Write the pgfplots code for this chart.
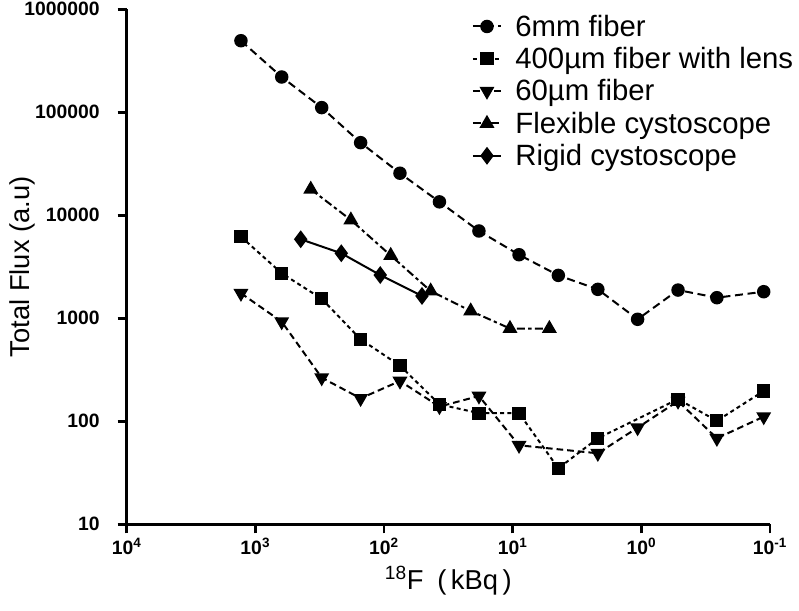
\documentclass[border=0pt]{standalone}
\usepackage{fontspec}
\setmainfont{Liberation Sans}
\usepackage{pgfplots}
\pgfplotsset{compat=1.18}
\begin{document}
\begin{tikzpicture}
\begin{axis}[
  scale only axis,
  width=482.5pt, height=386.25pt,
  xmode=log, ymode=log,
  x dir=reverse,
  xmin=0.1, xmax=10000,
  ymin=10, ymax=1000000,
  axis x line*=bottom, axis y line*=left,
  axis line style={line width=2pt},
  xminorticks=false, yminorticks=false,
  tick align=outside,
  major tick length=6.75pt,
  every tick/.style={line width=2pt, black},
  xtick={0.1,1,10,100,1000,10000},
  xticklabels={\textbf{10}\textsuperscript{\textbf{-1}},\textbf{10}\textsuperscript{\textbf{0}},\textbf{10}\textsuperscript{\textbf{1}},\textbf{10}\textsuperscript{\textbf{2}},\textbf{10}\textsuperscript{\textbf{3}},\textbf{10}\textsuperscript{\textbf{4}}},
  ytick={10,100,1000,10000,100000,1000000},
  yticklabels={\textbf{10},\textbf{100},\textbf{1000},\textbf{10000},\textbf{100000},\textbf{1000000}},
  ticklabel style={font=\fontsize{14.5}{16}\selectfont},
  yticklabel style={xshift=-10pt},
  xlabel={\textsuperscript{18}F\enspace(\,kBq\,)},
  ylabel={Total Flux (a.u)},
  every axis x label/.style={at={(axis description cs:0.5,0)}, yshift=-42.5pt, anchor=center, font=\fontsize{20.5}{23}\selectfont},
  every axis y label/.style={at={(axis description cs:-0.162,0.5)}, rotate=90, anchor=center, font=\fontsize{20.5}{23}\selectfont},
  legend style={draw=none, fill=none, at={(axis description cs:0.53,1)}, anchor=north west, yshift=0pt,
    font=\fontsize{22}{24}\selectfont, row sep=2.8pt,
    /tikz/every odd column/.append style={column sep=8pt}},
  legend cell align=left,
  legend image code/.code={\draw[mark repeat=2,mark phase=2] plot coordinates {(0cm,0cm) (0.37cm,0cm) (0.74cm,0cm)};},
  every axis plot/.append style={line width=1.5pt, black},
]
\addplot[mark=*, mark size=4.3pt, dash pattern=on 6pt off 3.5pt, mark options={solid}] coordinates {
(1294,495000)(624,220000)(305,111000)(152,50700)(75.2,25600)(37.1,13500)(18.3,7040)(8.93,4140)(4.42,2610)(2.18,1910)(1.07,978)(0.519,1880)(0.259,1585)(0.112,1812)};
\addlegendentry{6mm fiber}
\addplot[mark=square*, mark size=4.2pt, dash pattern=on 3pt off 2.5pt, mark options={solid}] coordinates {
(1294,6200)(624,2735)(305,1546)(152,625)(75.2,347)(37.1,146)(18.3,120)(8.93,120)(4.42,35)(2.18,68.4)(0.519,164)(0.259,101)(0.112,197)};
\addlegendentry{400µm fiber with lens}
\addplot[mark=triangle*, mark size=5pt, dash pattern=on 5pt off 3pt, mark options={solid, rotate=180}] coordinates {
(1294,1750)(624,927)(305,265)(152,167)(75.2,246)(37.1,139)(18.3,176)(8.93,58.5)(2.18,48.9)(1.07,86.7)(0.519,157)(0.259,68.4)(0.112,111)};
\addlegendentry{60µm fiber}
\addplot[mark=triangle*, mark size=5pt, dash pattern=on 6pt off 2.5pt on 2.5pt off 2.5pt, mark options={solid}] coordinates {
(371,17900)(181,9000)(88.7,4070)(43.4,1840)(21.2,1178)(10.5,796)(5.19,796)};
\addlegendentry{Flexible cystoscope}
\addplot[mark=diamond*, mark size=5.5pt, solid] coordinates {
(444,5850)(215,4280)(107,2630)(50.7,1648)};
\addlegendentry{Rigid cystoscope}
\end{axis}
\pgfresetboundingbox
\path[use as bounding box] (-95.0pt,-65.0pt) rectangle (504.2pt,393.2pt);
\end{tikzpicture}
\end{document}
